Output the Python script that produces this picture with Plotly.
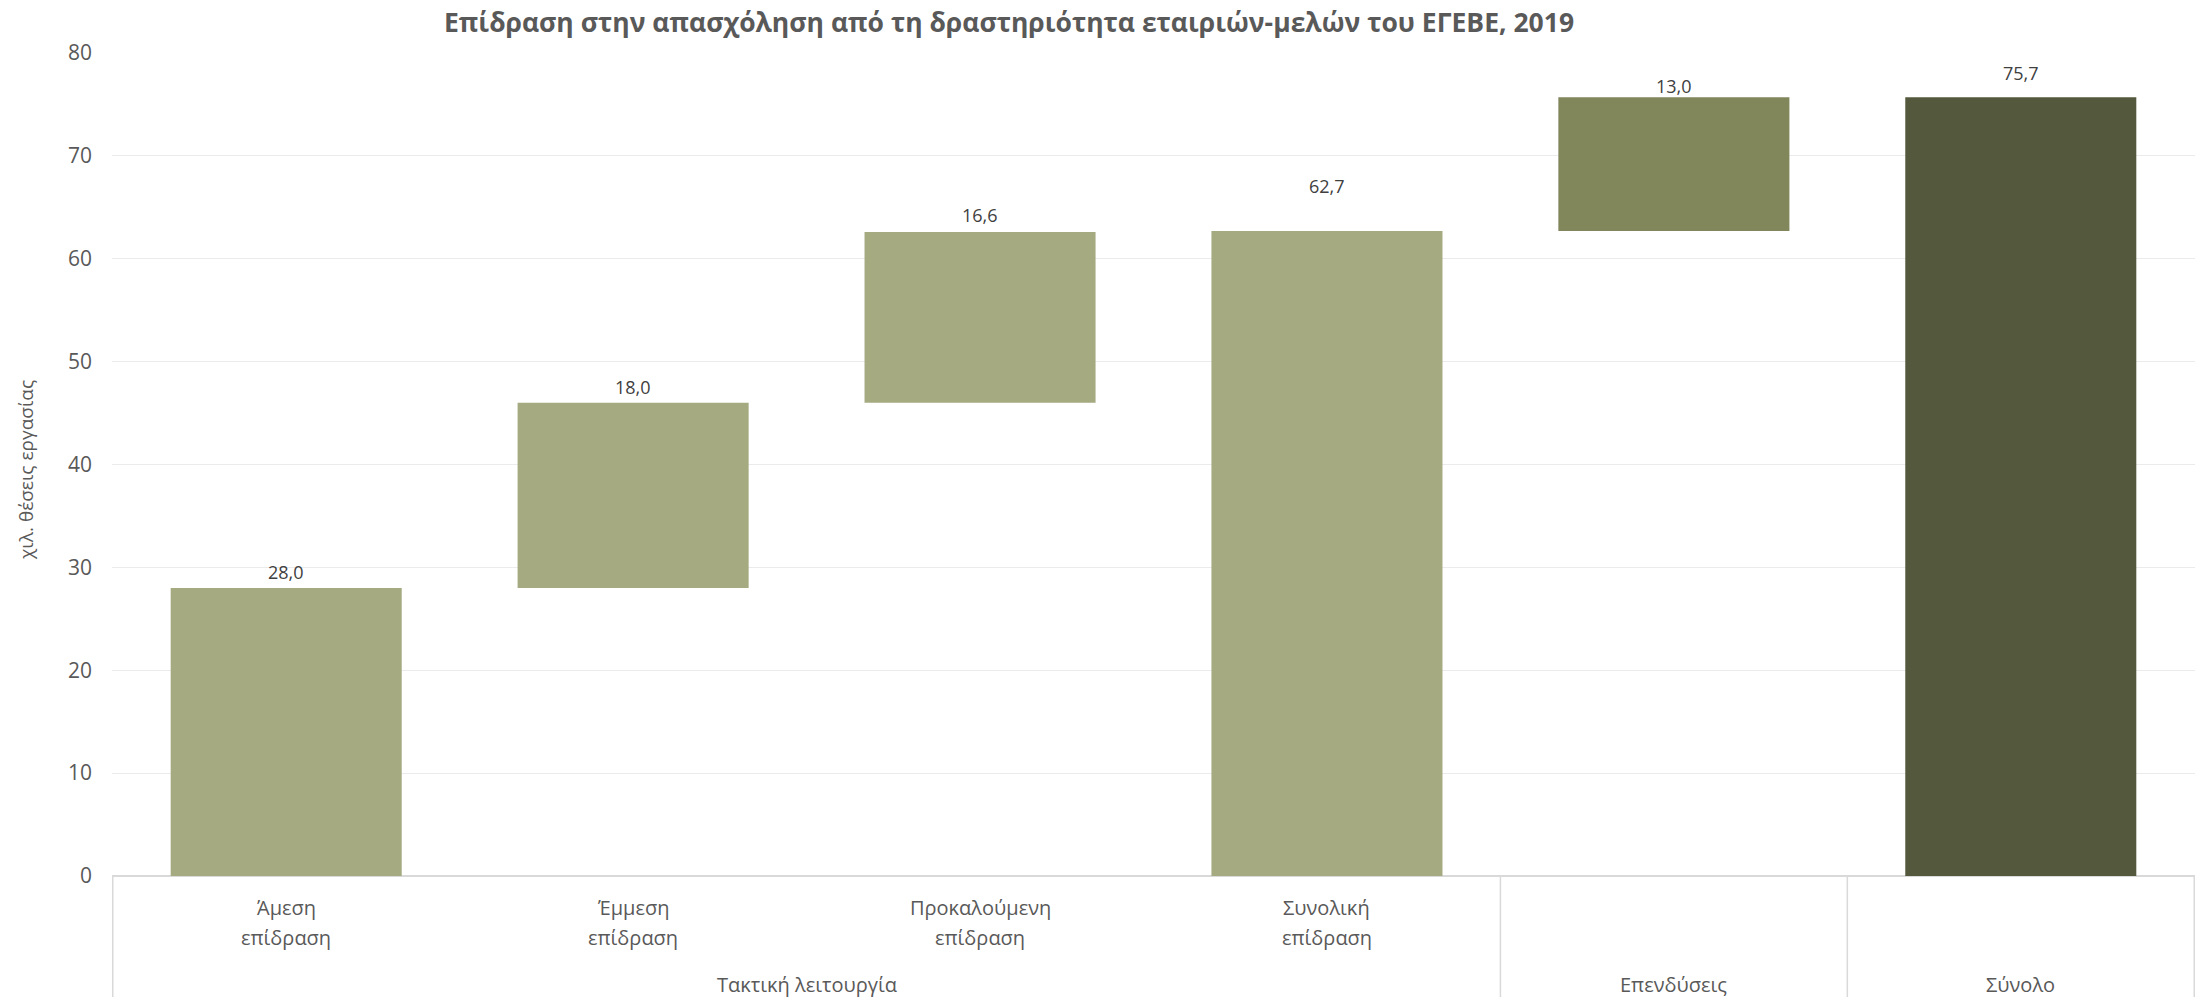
import plotly.graph_objects as go

# ---- data ----
categories = ["Άμεση επίδραση", "Έμμεση επίδραση", "Προκαλούμενη επίδραση",
              "Συνολική επίδραση", "Επενδύσεις", "Σύνολο"]
inner_labels = ["Άμεση<br>επίδραση", "Έμμεση<br>επίδραση", "Προκαλούμενη<br>επίδραση",
                "Συνολική<br>επίδραση", "", ""]
groups = ["Τακτική λειτουργία", "Τακτική λειτουργία", "Τακτική λειτουργία",
          "Τακτική λειτουργία", "Επενδύσεις", "Σύνολο"]
values = [28.0, 18.0, 16.6, 62.7, 13.0, 75.7]
measures = ["relative", "relative", "relative", "total", "relative", "total"]
y_ticks = [0, 10, 20, 30, 40, 50, 60, 70, 80]

title = "Επίδραση στην απασχόληση από τη δραστηριότητα εταιριών-μελών του ΕΓΕΒΕ, 2019"
y_title = "χιλ. θέσεις εργασίας"

# ---- styles ----
bar_colors = ["#A5AA80", "#A5AA80", "#A5AA80", "#A5AA80", "#81865B", "#54593D"]
label_offsets = [16, 16, 17, 45, 11, 24]
inner_line_y = [-0.0377, -0.0753]
FONT = "Open Sans"
GREY = "#595959"
W, H = 2209, 997

# compute waterfall bases
bases = []
running = 0.0
for v, m in zip(values, measures):
    if m == "total":
        bases.append(0.0)
        running = v
    else:
        bases.append(running)
        running += v
tops = [b + v for b, v in zip(bases, values)]

fig = go.Figure()
fig.add_trace(go.Bar(
    x=categories, y=values, base=bases,
    marker=dict(color=bar_colors, line=dict(width=0)),
    hoverinfo="skip", showlegend=False,
))

annotations = []
# data labels
for c, t, v, off in zip(categories, tops, values, label_offsets):
    annotations.append(dict(
        x=c, y=t, xref="x", yref="y", text=f"{v:.1f}".replace(".", ","),
        showarrow=False, yanchor="middle", yshift=off,
        font=dict(family=FONT, size=18, color="#404040")))

# inner category labels (one annotation per line for Excel-like spacing)
for c, lab in zip(categories, inner_labels):
    if lab:
        for line, yy in zip(lab.split("<br>"), inner_line_y):
            annotations.append(dict(
                x=c, y=yy, xref="x", yref="paper", text=line, showarrow=False,
                yanchor="middle", align="center",
                font=dict(family=FONT, size=20, color=GREY)))

# outer group labels (centered on their span)
spans = []
for i, g in enumerate(groups):
    if spans and spans[-1][0] == g:
        spans[-1][2] = i
    else:
        spans.append([g, i, i])
shapes = []
for g, i0, i1 in spans:
    annotations.append(dict(
        x=(i0 + i1) / 2, y=-0.1324, xref="x", yref="paper", text=g, showarrow=False,
        yanchor="middle", font=dict(family=FONT, size=20, color=GREY)))
# dividers
edges = [spans[0][1] - 0.5] + [s[2] + 0.5 for s in spans]
for e in edges:
    shapes.append(dict(type="line", xref="x", yref="paper", x0=e, x1=e, y0=0, y1=-0.16,
                       line=dict(color="#D9D9D9", width=1.5)))

# y-axis title
annotations.append(dict(
    x=-0.0413, y=0.4933, xref="paper", yref="paper", text=y_title, showarrow=False,
    textangle=-90, xanchor="center", yanchor="middle",
    font=dict(family=FONT, size=19, color=GREY)))

fig.update_layout(
    width=W, height=H,
    margin=dict(l=112, r=14, t=53, b=121),
    paper_bgcolor="white", plot_bgcolor="white",
    bargap=0.334,
    title=dict(text=f"<b>{title}</b>", x=1009 / W, xanchor="center",
               y=1 - 22.5 / H, yanchor="middle",
               font=dict(family=FONT, size=26.5, color=GREY)),
    xaxis=dict(type="category", showticklabels=False, showgrid=False, zeroline=False,
               showline=False, ticks=""),
    yaxis=dict(range=[0, 80], tickvals=y_ticks, showgrid=True, gridcolor="#EBEBEB",
               gridwidth=1, zeroline=True, zerolinecolor="#D9D9D9", zerolinewidth=1.5,
               showline=False, ticks="", ticklabelstandoff=19,
               tickfont=dict(family=FONT, size=21, color=GREY)),
    annotations=annotations,
    shapes=shapes,
)

fig.write_html("out.html", config={"displayModeBar": False},
               post_script="document.body.style.margin='0';document.body.style.overflow='hidden';")
